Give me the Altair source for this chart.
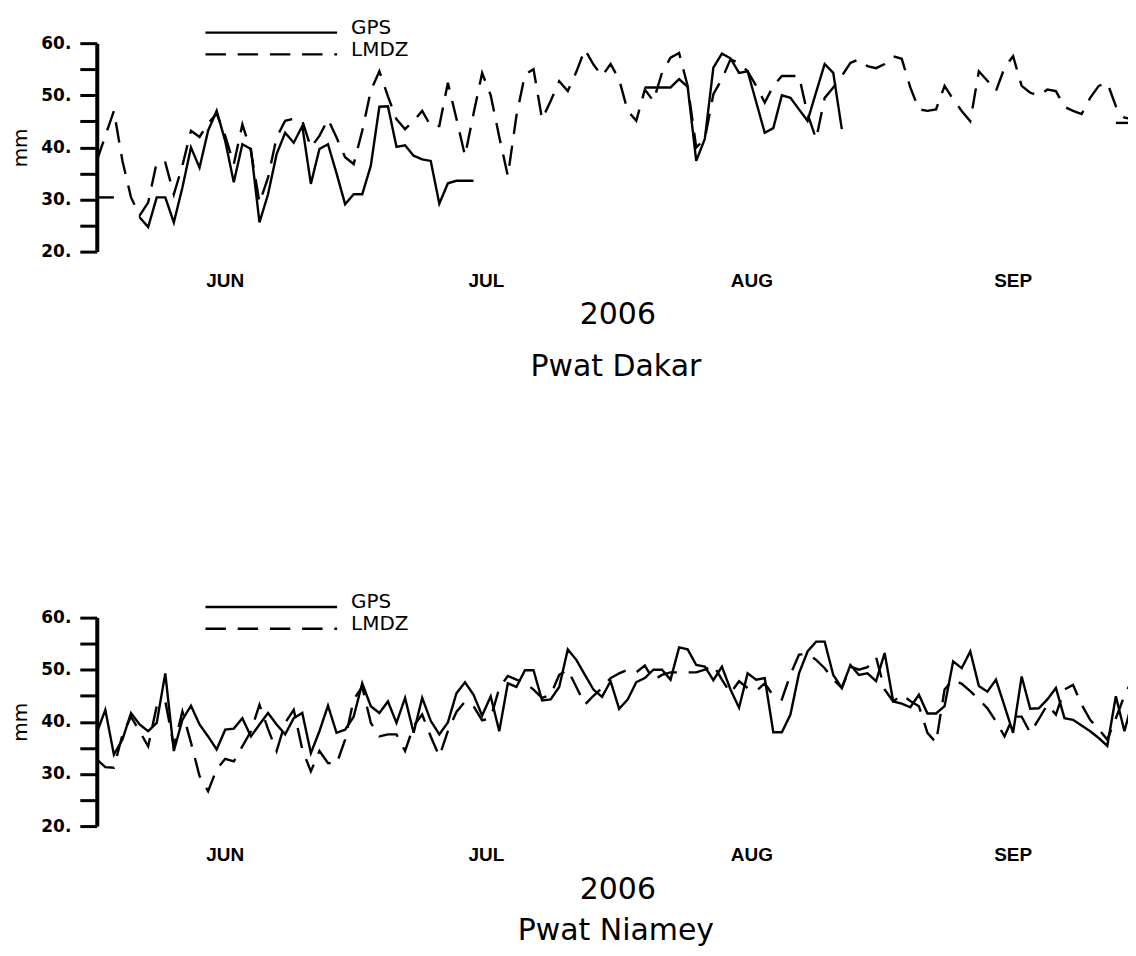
import altair as alt
import pandas as pd

N = None
# day index 0 = 1 June 2006 ... 121 = 30 Sep 2006
dakar_gps = [30.4, 30.4, 30.4, N, N,
             26.6, 24.7, 30.4, 30.4, 25.6,
             32.3, 40.0, 36.1, 43.2, 47.0,
             41.2, 33.3, 40.6, 39.7, 25.6,
             31.0, 38.7, 42.8, 40.9, 44.1,
             33.0, 39.7, 40.6, 35.0, 29.1,
             31.0, 31.0, 36.5, 47.8, 47.9,
             40.1, 40.4, 38.4, 37.7, 37.4,
             29.2, 33.1, 33.6, 33.6, 33.6,
             N, N, N, N, N, N, N, N, N, N,
             N, N, N, N, N, N, N, N, N,
             51.5, 51.5, 51.5, 51.5, 53.1, 51.6,
             37.4, 41.6, 55.3, 58.0, 57.1,
             54.3, 54.6, 48.7, 42.8, 43.7,
             50.0, 49.5, 47.3, 45.1, 50.6,
             56.0, 54.3, 43.5,
             N, N, N, N, N, N, N, N, N, N,
             N, N, N, N, N, N, N, N, N, N,
             N, N, N, N, N, N, N, N, N, N, N,
             44.7, 44.7, 44.7]

dakar_lmdz = [37.4, 42.2, 47.0, 37.4, 30.4,
              26.9, 29.4, 37.1, 37.1, 31.0,
              36.5, 43.2, 42.0, 44.6, 46.5,
              42.2, 36.8, 44.4, 39.3, 29.4,
              34.2, 41.9, 45.1, 45.5, 45.1,
              40.0, 42.2, 45.4, 41.9, 38.1,
              36.8, 43.2, 50.9, 54.6, 49.8,
              45.4, 43.5, 45.1, 47.0, 44.1,
              44.1, 52.4, 45.5, 38.4, 46.5,
              54.3, 50.0, 42.0, 34.5, 46.0,
              54.0, 55.0, 45.4, 48.9, 52.7,
              50.8, 54.5, 58.8, 55.9, 53.7,
              56.0, 53.0, 47.0, 45.1, 51.1,
              48.9, 54.3, 57.2, 58.1, 51.8,
              40.0, 41.6, 50.2, 53.1, 56.9,
              56.2, 54.6, 51.8, 48.6, 51.8,
              53.7, 53.7, 53.7, 46.4, 41.6,
              49.5, 51.5, 53.7, 56.2, 56.9,
              55.6, 55.2, 56.0, 57.5, 57.0,
              51.5, 47.3, 47.0, 47.3, 51.8,
              49.2, 47.0, 45.0, 54.6, 52.8,
              50.8, 55.3, 57.5, 51.8, 50.5,
              49.9, 51.1, 50.8, 47.8, 47.0,
              46.4, 49.5, 51.8, 52.4, 47.9,
              45.7, 45.4]

niamey_gps = [37.9, 42.3, 33.7, 36.6, 41.7,
              39.5, 38.2, 39.8, 49.3, 34.4,
              40.4, 43.1, 39.5, 37.2, 34.7,
              38.5, 38.7, 40.7, 37.2, 39.5,
              41.7, 39.5, 37.6, 40.7, 41.7,
              34.0, 38.2, 43.1, 37.9, 38.5,
              41.0, 47.4, 43.0, 41.7, 43.9,
              39.8, 44.6, 37.9, 44.6, 40.2,
              37.6, 39.9, 45.5, 47.6, 45.2,
              41.2, 44.9, 38.2, 47.4, 46.7,
              49.9, 49.9, 44.1, 44.3, 46.7,
              53.9, 51.9, 49.0, 46.2, 44.8,
              47.8, 42.5, 44.3, 47.6, 48.4,
              50.0, 50.0, 48.1, 54.3, 53.9,
              50.9, 50.6, 48.0, 50.6, 46.2,
              42.7, 49.3, 48.1, 48.4, 38.0,
              38.0, 41.4, 49.3, 53.5, 55.4,
              55.4, 49.0, 46.5, 50.9, 49.0,
              49.3, 47.8, 53.2, 43.9, 43.5,
              42.8, 45.2, 41.6, 41.6, 43.0,
              51.6, 50.3, 53.5, 46.9, 45.8,
              48.1, 43.0, 37.9, 48.7, 42.5,
              42.6, 44.3, 46.5, 40.7, 40.4,
              39.3, 38.2, 36.9, 35.4, 44.9,
              38.2, 44.3]

niamey_lmdz = [32.8, 31.3, 31.2, 37.5, 41.0,
               38.2, 35.3, 43.0, 44.0, 35.3,
               42.0, 36.0, 29.6, 26.7, 30.9,
               32.9, 32.4, 35.3, 38.2, 43.3,
               38.6, 34.4, 39.8, 42.3, 34.7,
               30.5, 34.4, 32.1, 31.9, 36.6,
               44.3, 46.7, 39.8, 37.2, 37.6,
               37.6, 34.4, 39.2, 41.4, 37.2,
               33.4, 38.2, 41.9, 43.9, 43.0,
               40.3, 40.7, 46.5, 48.8, 48.1,
               47.5, 46.2, 44.6, 45.2, 49.0,
               50.0, 46.7, 43.3, 45.0, 46.5,
               48.4, 49.3, 50.0, 49.5, 50.8,
               48.0, 49.0, 49.5, 49.5, 49.5,
               49.5, 50.0, 50.9, 48.1, 45.5,
               47.8, 46.5, 45.9, 47.4, 45.0,
               44.3, 49.1, 52.9, 53.0, 51.9,
               50.3, 48.1, 46.5, 50.6, 50.0,
               50.5, 52.4, 46.2, 43.9, 45.2,
               44.0, 43.0, 37.9, 36.0, 46.2,
               48.1, 47.3, 45.9, 44.3, 42.6,
               40.1, 37.2, 41.0, 41.0, 37.9,
               40.5, 43.3, 41.4, 46.2, 47.1,
               43.3, 40.4, 38.6, 36.6, 40.7,
               45.0, 48.4]

month_names = ["JUN", "JUL", "AUG", "SEP"]
month_mid = [15, 45.5, 76.5, 107]
month_starts = [0, 30, 61, 92]
y_ticks = [20, 25, 30, 35, 40, 45, 50, 55, 60]

for s in (dakar_gps, dakar_lmdz, niamey_gps, niamey_lmdz):
    if len(s) != 122:
        raise ValueError(f"length {len(s)}")

W = 1039
H = 209
FONT = "DejaVu Sans"
LW = 2.4
DASH = [20.5, 11.8]


def to_frame(values):
    rows = []
    seg = 0
    prev_none = True
    for d, v in enumerate(values):
        if v is None:
            prev_none = True
            continue
        if prev_none:
            seg += 1
            prev_none = False
        rows.append({"day": d, "value": v, "seg": seg})
    return pd.DataFrame(rows)


x_scale = alt.Scale(domain=[0, 121], nice=False, zero=False)
y_scale = alt.Scale(domain=[20, 60], nice=False, zero=False)

x_axis = alt.Axis(values=month_starts, labels=False, title=None, grid=False,
                  tickSize=7, tickWidth=3, domainWidth=4,
                  domainColor="black", tickColor="black")
y_axis = alt.Axis(values=y_ticks,
                  labelExpr="datum.value % 10 == 0 ? datum.value + '.' : ''",
                  tickSize=17, tickWidth=3, domainWidth=4, labelPadding=9,
                  labelFont=FONT, labelFontWeight="bold", labelFontSize=17,
                  labelColor="black", labelFlush=False, labelOverlap=False,
                  domainColor="black", tickColor="black", grid=False,
                  title="mm", titleFont=FONT, titleFontSize=20,
                  titleFontWeight="normal", titleAngle=270, titleX=-86,
                  titleY=H / 2, titleBaseline="top", titleAlign="center",
                  titleColor="black")

one = pd.DataFrame({"k": [0]})
months_df = pd.DataFrame({"mid": month_mid, "month": month_names})


def anchor(x1, x2, y1, y2):
    return alt.Chart(one).mark_rect(opacity=0).encode(
        x=alt.value(x1), x2=alt.value(x2), y=alt.value(y1), y2=alt.value(y2))


def panel(gps, lmdz, name, is_top):
    gps_line = alt.Chart(to_frame(gps)).mark_line(
        color="black", strokeWidth=LW).encode(
        x=alt.X("day:Q", scale=x_scale, axis=x_axis),
        y=alt.Y("value:Q", scale=y_scale, axis=y_axis),
        detail="seg:N")
    lmdz_line = alt.Chart(to_frame(lmdz)).mark_line(
        color="black", strokeWidth=LW, strokeDash=DASH).encode(
        x=alt.X("day:Q", scale=x_scale, axis=x_axis),
        y=alt.Y("value:Q", scale=y_scale, axis=y_axis),
        detail="seg:N")
    leg_gps = alt.Chart(one).mark_rule(color="black", strokeWidth=LW).encode(
        x=alt.value(109), x2=alt.value(241), y=alt.value(-10.6))
    leg_lmdz = alt.Chart(one).mark_rule(
        color="black", strokeWidth=LW, strokeDash=DASH).encode(
        x=alt.value(109), x2=alt.value(241), y=alt.value(11.2))
    leg_txt1 = alt.Chart(one).mark_text(
        align="left", baseline="top", font=FONT, fontSize=20,
        color="black").encode(x=alt.value(255), y=alt.value(-25.5),
                              text=alt.value("GPS"))
    leg_txt2 = alt.Chart(one).mark_text(
        align="left", baseline="top", font=FONT, fontSize=20,
        color="black").encode(x=alt.value(255), y=alt.value(-3.3),
                              text=alt.value("LMDZ"))
    months = alt.Chart(months_df).mark_text(
        align="center", baseline="alphabetic", font="Liberation Sans",
        fontWeight="bold", fontSize=19, color="black").encode(
        x=alt.X("mid:Q", scale=x_scale, axis=None),
        y=alt.value(244), text="month:N")
    year = alt.Chart(one).mark_text(
        align="center", baseline="alphabetic", font=FONT, fontSize=30,
        color="black").encode(x=alt.value(W / 2 + 3), y=alt.value(282),
                              text=alt.value("2006"))
    if is_top:
        ttl = alt.Chart(one).mark_text(
            align="center", baseline="alphabetic", font=FONT, fontSize=30,
            color="black").encode(x=alt.value(W / 2 + 1), y=alt.value(334),
                                  text=alt.value(name))
    else:
        ttl = alt.Chart(one).mark_text(
            align="center", baseline="bottom", font=FONT, fontSize=30,
            color="black").encode(x=alt.value(W / 2 + 1), y=alt.value(329),
                                  text=alt.value(name))
    layers = [gps_line, lmdz_line, leg_gps, leg_lmdz, leg_txt1, leg_txt2,
              months, year, ttl, anchor(-89, -88, 100, 101)]
    if is_top:
        layers.append(anchor(0, 1, -30, -29))
    return alt.layer(*layers).properties(width=W, height=H)


top = panel(dakar_gps, dakar_lmdz, "Pwat Dakar", True)
bottom = panel(niamey_gps, niamey_lmdz, "Pwat Niamey", False)

chart = alt.vconcat(top, bottom, spacing=367, bounds="flush").properties(
    padding={"left": 0, "top": 4, "right": -10, "bottom": 0}
).configure_view(stroke=None)

chart.save("out.html", embed_options={"renderer": "svg", "actions": False})
